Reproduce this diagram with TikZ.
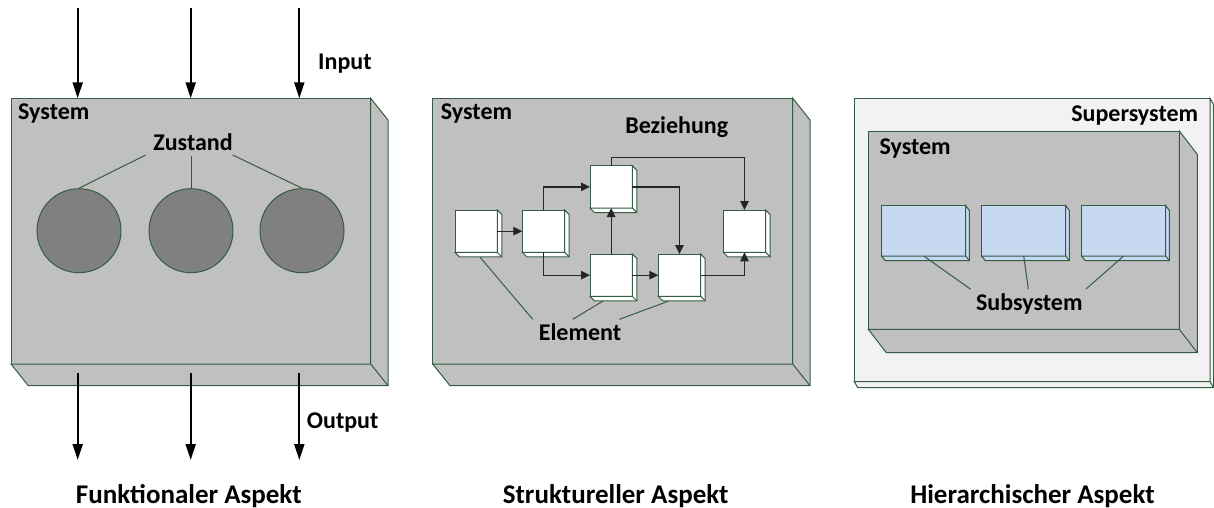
\documentclass[tikz,border=0pt]{standalone}
\usepackage{fontspec}
\setmainfont{Carlito}
\usetikzlibrary{arrows.meta,calc}

\definecolor{edgegreen}{RGB}{52,92,66}
\definecolor{boxgray}{RGB}{192,192,192}
\definecolor{discgray}{RGB}{128,128,128}
\definecolor{subblue}{RGB}{198,217,240}
\definecolor{supergray}{RGB}{242,242,242}

% side and bottom faces of a front face node: node, dx, dy, fill
\newcommand{\extrudebox}[4]{%
  \draw[face, fill=#4] (#1.north east) -- ++(#2,#3)
     -- ($(#1.south east)+(#2,#3)$) -- ($(#1.south west)+(#2,#3)$)
     -- (#1.south west) -- (#1.south east) -- cycle;
  \draw[face] (#1.south east) -- ++(#2,#3);
}

\tikzset{
  face/.style={draw=edgegreen, line width=1pt, line join=miter},
  front/.style={face, anchor=north west, inner sep=0pt, outer sep=0pt},
  sysbox/.style={front, fill=boxgray},
  elembox/.style={front, fill=white, minimum width=42.3pt, minimum height=42.3pt},
  subbox/.style={front, fill=subblue, minimum width=84pt, minimum height=50.3pt},
  disc/.style={circle, draw=edgegreen, line width=1pt, fill=discgray, minimum size=84pt, inner sep=0pt},
  lbl/.style={font=\bfseries\fontsize{24}{28}\selectfont, inner sep=0pt, anchor=base west},
  clbl/.style={font=\bfseries\fontsize{24}{28}\selectfont, inner sep=0pt, anchor=base},
  caption/.style={font=\bfseries\fontsize{27}{32}\selectfont, inner sep=0pt, anchor=base},
  bigarrow/.style={line width=2pt, -{Triangle[length=16pt,width=10pt]}},
  flow/.style={line width=1.3pt, draw=black!85, -{Triangle[length=9pt,width=8.5pt]}},
  pointer/.style={draw=edgegreen, line width=1pt},
}

\begin{document}
\begin{tikzpicture}[x=1pt, y=-1pt]
\useasboundingbox (0,0) rectangle (1214,508);

% ---------------- Funktionaler Aspekt ----------------
\node[sysbox, minimum width=359.7pt, minimum height=265.7pt] (f1) at (11,98.3) {};
\extrudebox{f1}{17.3}{21.7}{boxgray}
\node[lbl] (f1lbl) at (18,119.3) {System};

\node[disc] (z1) at (79,230.7) {};
\node[disc] (z2) at (191,230.7) {};
\node[disc] (z3) at (302,230.7) {};
\node[clbl] (zust) at (193,150) {Zustand};
\coordinate (zl) at (145.7,155);
\coordinate (zm) at (191,156);
\coordinate (zr) at (232.7,155);
\draw[pointer] (zl) -- (z1.north);
\draw[pointer] (zm) -- (z2.north);
\draw[pointer] (zr) -- (z3.north);

\coordinate (in1) at (77.7,8);
\coordinate (in2) at (190.7,8);
\coordinate (in3) at (299.3,8);
\draw[bigarrow] (in1) -- (in1 |- f1.north);
\draw[bigarrow] (in2) -- (in2 |- f1.north);
\draw[bigarrow] (in3) -- (in3 |- f1.north);
\node[lbl] (inlbl) at (318,70) {Input};

\coordinate (os1) at (77.7,373);
\coordinate (os2) at (190.7,373);
\coordinate (os3) at (299.3,373);
\coordinate (oe1) at (77.7,460);
\coordinate (oe2) at (190.7,460);
\coordinate (oe3) at (299.3,460);
\draw[bigarrow] (os1) -- (oe1);
\draw[bigarrow] (os2) -- (oe2);
\draw[bigarrow] (os3) -- (oe3);
\node[lbl] (outlbl) at (306.7,428) {Output};

\node[caption] (cap1) at (188.8,503.3) {Funktionaler Aspekt};

% ---------------- Struktureller Aspekt ----------------
\node[sysbox, minimum width=360pt, minimum height=265.7pt] (f2) at (432.7,98.3) {};
\extrudebox{f2}{17.3}{21.7}{boxgray}
\node[lbl] (f2lbl) at (440.7,119.3) {System};
\node[clbl] (bez) at (676.7,133.3) {Beziehung};

\node[elembox] (A) at (455,210) {};
\extrudebox{A}{4.5}{4.5}{white}
\node[elembox] (B) at (522.3,210) {};
\extrudebox{B}{4.5}{4.5}{white}
\node[elembox] (C) at (590,165.7) {};
\extrudebox{C}{4.5}{4.5}{white}
\node[elembox] (D) at (590,254) {};
\extrudebox{D}{4.5}{4.5}{white}
\node[elembox] (E) at (658.3,254) {};
\extrudebox{E}{4.5}{4.5}{white}
\node[elembox] (F) at (723.3,210) {};
\extrudebox{F}{4.5}{4.5}{white}

\draw[flow] (A.east) -- (B.west);
\draw[flow] (B.north) |- (C.west);
\draw[flow] (B.south) |- (D.west);
\draw[flow] (D.north) -- (C.south);
\draw[flow] (C.north) -- ++(0,-8.4) -| (F.north);
\draw[flow] (C.east) -| (E.north);
\draw[flow] (D.east) -- (E.west);
\draw[flow] (E.east) -| (F.south);

\node[clbl] (elem) at (580,340) {Element};
\coordinate (ea) at (532.7,319.3);
\coordinate (ed) at (572.7,319.3);
\coordinate (ee) at (619.3,319.3);
\draw[pointer] ($(A.south)+(4,5)$) -- (ea);
\draw[pointer] ($(D.south)+(-8.5,5)$) -- (ed);
\draw[pointer] ($(E.south)+(-11.3,5)$) -- (ee);

\node[caption] (cap2) at (615.7,503.3) {Struktureller Aspekt};

% ---------------- Hierarchischer Aspekt ----------------
\node[front, fill=supergray, minimum width=355.7pt, minimum height=283.4pt] (sup) at (854.3,98.3) {};
\extrudebox{sup}{3.5}{6}{supergray}
\node[font=\bfseries\fontsize{24}{28}\selectfont, inner sep=0pt, anchor=base east] (suplbl) at (1198.3,121.7) {Supersystem};

\node[sysbox, minimum width=311pt, minimum height=198.3pt] (f3) at (868.3,131) {};
\extrudebox{f3}{18}{23.4}{boxgray}
\node[lbl] (f3lbl) at (879.3,154) {System};

\node[subbox] (s1) at (881.7,205.7) {};
\extrudebox{s1}{3.6}{4.7}{subblue}
\node[subbox] (s2) at (981.7,205.7) {};
\extrudebox{s2}{3.6}{4.7}{subblue}
\node[subbox] (s3) at (1081.7,205.7) {};
\extrudebox{s3}{3.6}{4.7}{subblue}

\node[clbl] (sub) at (1029.3,310) {Subsystem};
\coordinate (sa) at (970.7,289.3);
\coordinate (sb) at (1028.3,289);
\coordinate (sc) at (1086,289);
\draw[pointer] (s1.south) -- (sa);
\draw[pointer] (s2.south) -- (sb);
\draw[pointer] (s3.south) -- (sc);

\node[caption] (cap3) at (1032.5,503.3) {Hierarchischer Aspekt};
\end{tikzpicture}
\end{document}
